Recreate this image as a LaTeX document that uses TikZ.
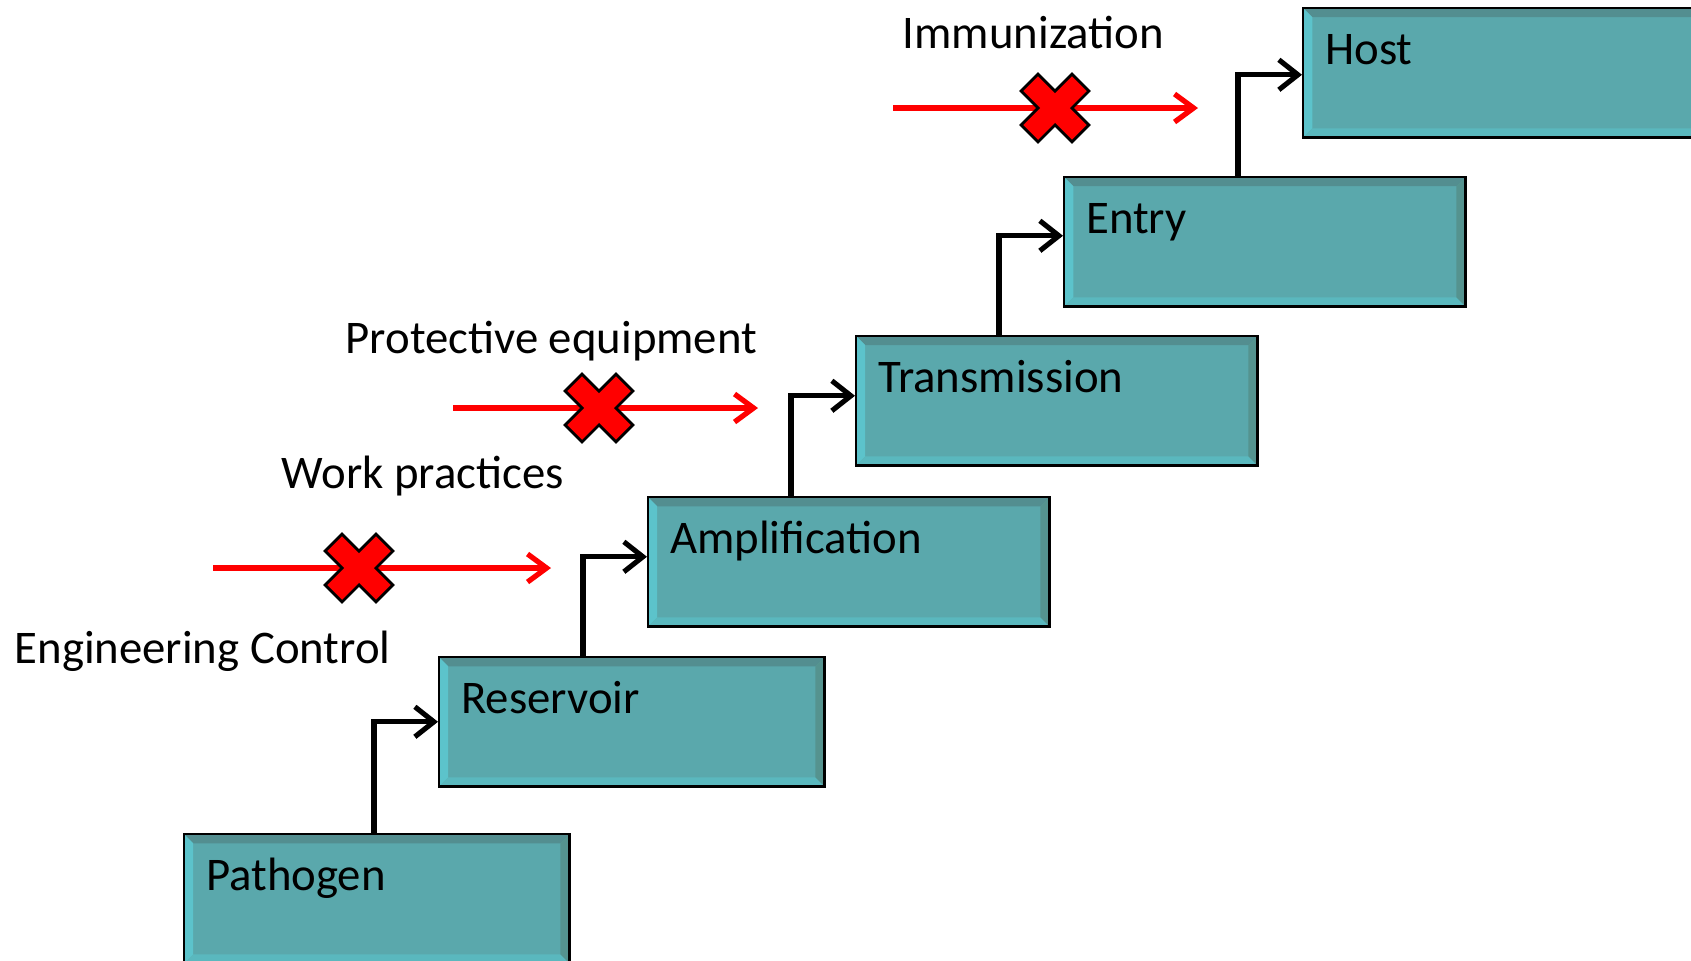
\documentclass[tikz,border=0pt]{standalone}
\usepackage{fontspec}
\setmainfont{Carlito}
\usepackage{xcolor}
\usetikzlibrary{arrows.meta,calc}
\definecolor{stagefill}{HTML}{5AA8AC}
\definecolor{bevtop}{HTML}{538E90}
\definecolor{bevleft}{HTML}{5CC3CB}
\definecolor{bevbottom}{HTML}{5AB8BE}
\definecolor{bevright}{HTML}{55938F}
\tikzset{
	stage/.style={draw=black, line width=0.7pt, fill=stagefill, anchor=north west,
		inner xsep=0.22cm, inner ysep=0pt, text width=3.57cm,
		text height=0.56cm, text depth=0.73cm, align=left,
		path picture={
			\fill[bevtop] (path picture bounding box.north west) -- (path picture bounding box.north east)
				-- ([shift={(-0.09cm,-0.09cm)}]path picture bounding box.north east)
				-- ([shift={(0.09cm,-0.09cm)}]path picture bounding box.north west) -- cycle;
			\fill[bevleft] (path picture bounding box.north west) -- (path picture bounding box.south west)
				-- ([shift={(0.09cm,0.09cm)}]path picture bounding box.south west)
				-- ([shift={(0.09cm,-0.09cm)}]path picture bounding box.north west) -- cycle;
			\fill[bevbottom] (path picture bounding box.south west) -- (path picture bounding box.south east)
				-- ([shift={(-0.09cm,0.09cm)}]path picture bounding box.south east)
				-- ([shift={(0.09cm,0.09cm)}]path picture bounding box.south west) -- cycle;
			\fill[bevright] (path picture bounding box.north east) -- (path picture bounding box.south east)
				-- ([shift={(-0.09cm,0.09cm)}]path picture bounding box.south east)
				-- ([shift={(-0.09cm,-0.09cm)}]path picture bounding box.north east) -- cycle;
		}},
	link/.style={black, line width=1.45pt, -{Straight Barb[length=1.9mm,width=3mm]}},
	barrier/.style={red, line width=1.5pt, -{Straight Barb[length=1.9mm,width=2.8mm]}},
	note/.style={anchor=base west, inner sep=0pt},
	stopmark/.pic={
		\draw[fill=red, line width=0.8pt, line join=miter, rotate=45]
			(12,36) -- (12,12) -- (36,12) -- (36,-12) -- (12,-12) -- (12,-36)
			-- (-12,-36) -- (-12,-12) -- (-36,-12) -- (-36,12) -- (-12,12) -- (-12,36) -- cycle;
	}
}

\begin{document}
\begin{tikzpicture}[x=0.01cm, y=-0.01cm, font=\fontsize{13.3}{16}\selectfont]
	\useasboundingbox (0,0) rectangle (1691,960);

	\node[stage, text width=3.41cm] (Pathogen) at (183,833) {Pathogen};
	\node[stage, text width=3.41cm] (Reservoir) at (438,656) {Reservoir};
	\node[stage] (Amplification) at (647,496) {Amplification};
	\node[stage] (Transmission) at (855,335) {Transmission};
	\node[stage] (Entry) at (1063,176) {Entry};
	\node[stage] (Host) at (1302,7) {Host};

	\foreach \lo/\hi/\dy in {Pathogen/Reservoir/0, Reservoir/Amplification/0.05, Amplification/Transmission/0.05, Transmission/Entry/0.06, Entry/Host/-0.02}{
		\coordinate (turn\hi) at ([xshift=-0.64cm, yshift=\dy cm]\hi.west);
		\draw[link] (turn\hi |- \lo.north) -- (turn\hi) -- ([yshift=\dy cm]\hi.west);
	}

	\coordinate (immstart) at (893,108);
	\coordinate (immend) at (1198,108);
	\draw[barrier] (immstart) -- (immend);
	\pic at (1055,108) {stopmark};

	\coordinate (ppestart) at (453,408);
	\coordinate (ppeend) at (758,408);
	\draw[barrier] (ppestart) -- (ppeend);
	\pic at (599,408) {stopmark};

	\coordinate (workstart) at (213,568);
	\coordinate (workend) at (551,568);
	\draw[barrier] (workstart) -- (workend);
	\pic at (359,568) {stopmark};

	\node[note] (immlabel) at (902,48) {Immunization};
	\node[note] (ppelabel) at (345,353) {Protective equipment};
	\node[note] (worklabel) at (281,488) {Work practices};
	\node[note] (englabel) at (14,663) {Engineering Control};
\end{tikzpicture}
\end{document}
